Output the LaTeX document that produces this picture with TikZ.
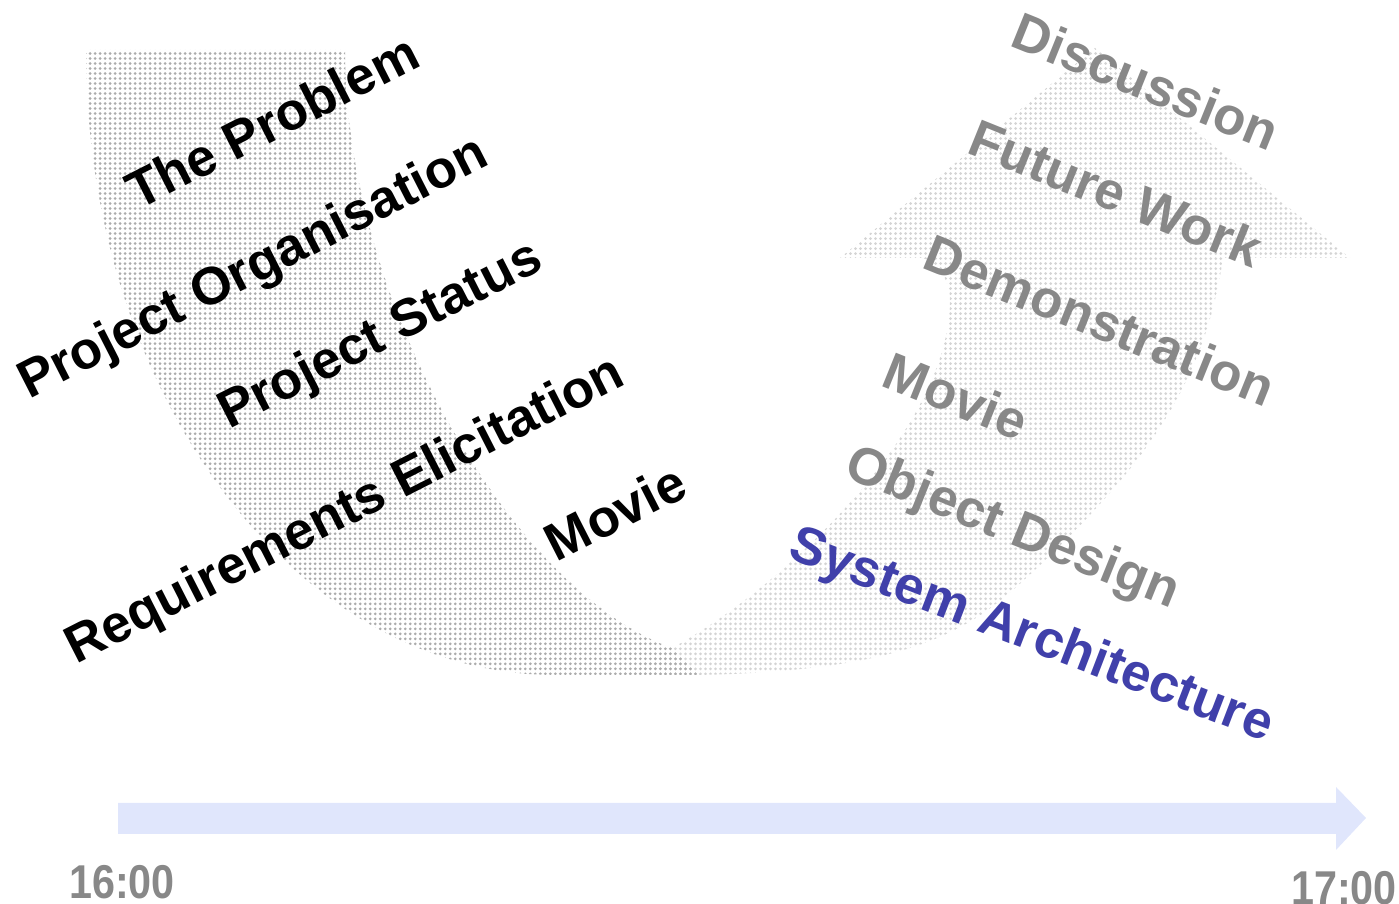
\documentclass[tikz,border=0pt]{standalone}
\usepackage{fontspec}
\setmainfont{Liberation Sans}
\usetikzlibrary{patterns.meta}
\definecolor{donegray}{RGB}{136,136,136}
\definecolor{nowblue}{RGB}{64,64,170}
\definecolor{timeblue}{RGB}{224,230,252}
\definecolor{dotdark}{RGB}{172,172,172}
\definecolor{dotlight}{RGB}{212,212,212}

\begin{document}
\begin{tikzpicture}[x=0.01cm, y=-0.01cm,
  talk/.style={font=\fontsize{15}{18}\selectfont\bfseries, inner sep=0pt},
  done/.style={talk, rotate=27, text=black},
  todo/.style={talk, rotate=-22, text=donegray},
  clock/.style={font=\fontsize{13.5}{16}\selectfont\bfseries, text=donegray, xscale=0.87, anchor=base}]
\useasboundingbox (0,0) rectangle (1399,904);

% right half of the U, going up into the arrow head
\fill[pattern={Dots[distance=0.05cm, radius=0.015cm]}, pattern color=dotlight]
  (620,675) -- (672,648) .. controls (780,590) and (950,430) .. (950,300)
  .. controls (950,280) and (938,264) .. (923,258) -- (840,258) -- (1095,48) -- (1350,258) -- (1223,258)
  .. controls (1205,380) and (1150,460) .. (1040,565)
  .. controls (980,622) and (930,670) .. (700,675) -- cycle;

% left half of the U
\fill[pattern={Dots[distance=0.05cm, radius=0.015cm]}, pattern color=dotdark]
  (86,50) -- (345,50) .. controls (345,300) and (510,590) .. (672,648) -- (700,675) -- (555,675)
  .. controls (296,675) and (86,395) .. (86,50) -- cycle;

% time line
\fill[timeblue] (118,803) -- (1336,803) -- (1336,787) -- (1366,818) -- (1336,850) -- (1336,834) -- (118,834) -- cycle;

\node[done] (problem) at (272,121) {The Problem};
\node[done] (organisation) at (254,270) {Project Organisation};
\node[done] (status) at (381,337) {Project Status};
\node[done] (elicitation) at (346,512) {Requirements Elicitation};
\node[done] (movieone) at (615,512) {Movie};

\node[todo] (discussion) at (1146,81) {Discussion};
\node[todo] (futurework) at (1116,193) {Future Work};
\node[todo] (demo) at (1100,320) {Demonstration};
\node[todo] (movietwo) at (956,396) {Movie};
\node[todo] (objectdesign) at (1012,530) {Object Design};
\node[todo, text=nowblue, rotate=1] (sysarch) at (1031,637) {System Architecture};

\node[clock] (start) at (122,899) {16:00};
\node[clock] (end) at (1344,905) {17:00};
\end{tikzpicture}
\end{document}
